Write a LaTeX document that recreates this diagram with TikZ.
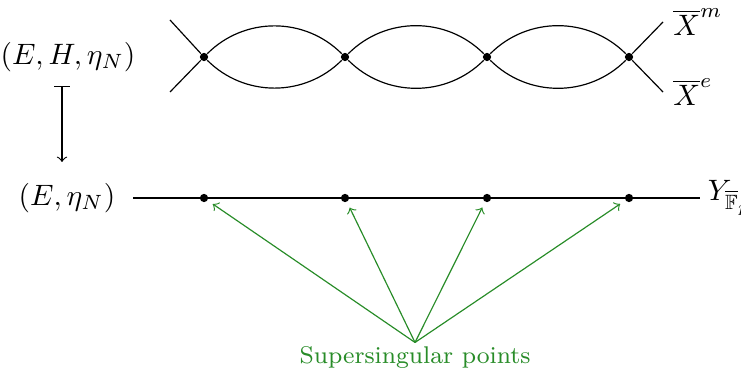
\documentclass[tikz,border=0pt]{standalone}
\usepackage{amssymb}
\definecolor{ssgreen}{RGB}{40,140,40}
\tikzset{
  dot/.style={circle, fill, inner sep=0pt, minimum size=2.8pt},
}
\begin{document}
\begin{tikzpicture}[x=0.339pt, y=-0.339pt]
  \useasboundingbox (0,0) rectangle (741,374);

  % points on the two curves
  \foreach \i/\xx in {1/204, 2/345, 3/487, 4/629} {
    \node[dot] (t\i) at (\xx,57) {};
    \node[dot] (b\i) at (\xx,198) {};
  }

  % top curve
  \coordinate (tl1) at (170,20);
  \coordinate (tl2) at (170,92);
  \coordinate (tr1) at (663,22);
  \coordinate (tr2) at (663,92);
  \draw (tl1) -- (t1) -- (tl2);
  \foreach \i/\j in {1/2, 2/3, 3/4} {
    \draw (t\i) to[bend left=45] (t\j);
    \draw (t\i) to[bend right=45] (t\j);
  }
  \draw (t4) -- (tr1) node[right] {$\overline{X}^m$};
  \draw (t4) -- (tr2) node[right] {$\overline{X}^e$};

  % bottom line
  \coordinate (bl) at (133,198);
  \coordinate (br) at (700,198);
  \draw (bl) -- (br) node[right, inner sep=2.5pt] {$Y_{\overline{\mathbb{F}}_p}$};

  % left labels
  \node (EH) at (68,57) {$(E,H,\eta_N)$};
  \node (E) at (67,198) {$(E,\eta_N)$};
  \coordinate (m1) at (62,86);
  \coordinate (m2) at (62,162);
  \draw[|->] (m1) -- (m2);

  % supersingular points
  \node[text=ssgreen, inner sep=1pt, font=\fontsize{8.2}{10}\selectfont] (ss) at (415,357) {Supersingular points};
  \foreach \i in {1,...,4}
    \draw[->, ssgreen, shorten >=2pt] (ss.north) -- (b\i);
\end{tikzpicture}
\end{document}
